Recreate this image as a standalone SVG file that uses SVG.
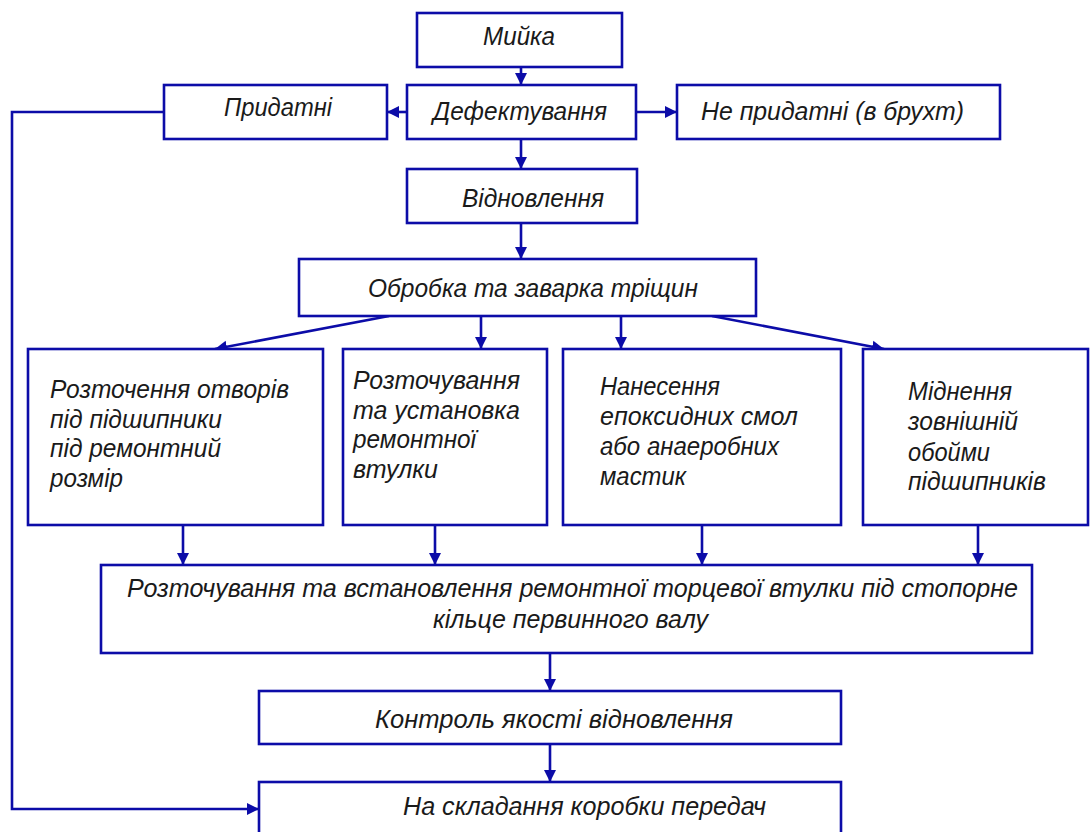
<svg xmlns="http://www.w3.org/2000/svg" width="1091" height="832" viewBox="0 0 1091 832">
<style>
.box{fill:#fff;stroke:#0c0ca8;stroke-width:2.6}
.ln{fill:none;stroke:#0c0ca8;stroke-width:2.6;marker-end:url(#ah)}
text{font-family:"Liberation Sans","DejaVu Sans",sans-serif;font-style:italic;font-size:26px;fill:#1a1a1a}
</style>
<defs>
<marker id="ah" markerUnits="userSpaceOnUse" markerWidth="13" markerHeight="13" refX="12" refY="6.5" orient="auto">
<path d="M0,0.5 L12,6.5 L0,12.5 z" fill="#0c0ca8"/>
</marker>
</defs>
<rect width="1091" height="832" fill="#fff"/>
<g id="connectors">
<line class="ln" x1="521" y1="67" x2="521" y2="85"/>
<line class="ln" x1="407" y1="112" x2="387" y2="112"/>
<line class="ln" x1="636" y1="112" x2="677" y2="112"/>
<line class="ln" x1="521" y1="139" x2="521" y2="169"/>
<line class="ln" x1="521" y1="223" x2="521" y2="259"/>
<polyline class="ln" points="164,112 12,112 12,809 259,809"/>
<line class="ln" x1="389" y1="316" x2="215" y2="349"/>
<line class="ln" x1="481" y1="316" x2="481" y2="349"/>
<line class="ln" x1="621" y1="316" x2="621" y2="349"/>
<line class="ln" x1="712" y1="316" x2="884" y2="349"/>
<line class="ln" x1="183" y1="525" x2="183" y2="565"/>
<line class="ln" x1="435" y1="525" x2="435" y2="565"/>
<line class="ln" x1="702" y1="525" x2="702" y2="565"/>
<line class="ln" x1="978" y1="525" x2="978" y2="565"/>
<line class="ln" x1="550" y1="653" x2="550" y2="691"/>
<line class="ln" x1="550" y1="744" x2="550" y2="782"/>
</g>
<g id="n-myika">
<rect class="box" x="417" y="13" width="205" height="54"/>
<text x="483" y="45" textLength="72" lengthAdjust="spacingAndGlyphs">Мийка</text>
</g>
<g id="n-defekt">
<rect class="box" x="407" y="85" width="229" height="54"/>
<text x="433" y="120" textLength="174" lengthAdjust="spacingAndGlyphs">Дефектування</text>
</g>
<g id="n-prydatni">
<rect class="box" x="164" y="85" width="223" height="54"/>
<text x="224" y="116" textLength="108" lengthAdjust="spacingAndGlyphs">Придатні</text>
</g>
<g id="n-neprydatni">
<rect class="box" x="677" y="85" width="323" height="54"/>
<text x="701" y="120" textLength="263" lengthAdjust="spacingAndGlyphs">Не придатні (в брухт)</text>
</g>
<g id="n-vidnovlennia">
<rect class="box" x="407" y="169" width="230" height="54"/>
<text x="462" y="207" textLength="142" lengthAdjust="spacingAndGlyphs">Відновлення</text>
</g>
<g id="n-obrobka">
<rect class="box" x="299" y="259" width="457" height="57"/>
<text x="368" y="297" textLength="330" lengthAdjust="spacingAndGlyphs">Обробка та заварка тріщин</text>
</g>
<g id="n-rozt1">
<rect class="box" x="28" y="349" width="295" height="176"/>
<text x="50" y="398" textLength="239" lengthAdjust="spacingAndGlyphs">Розточення отворів</text>
<text x="50" y="428" textLength="172" lengthAdjust="spacingAndGlyphs">під підшипники</text>
<text x="50" y="457" textLength="171" lengthAdjust="spacingAndGlyphs">під ремонтний</text>
<text x="50" y="487" textLength="73" lengthAdjust="spacingAndGlyphs">розмір</text>
</g>
<g id="n-rozt2">
<rect class="box" x="343" y="349" width="204" height="176"/>
<text x="353" y="389" textLength="167" lengthAdjust="spacingAndGlyphs">Розточування</text>
<text x="353" y="419" textLength="167" lengthAdjust="spacingAndGlyphs">та установка</text>
<text x="353" y="448" textLength="123" lengthAdjust="spacingAndGlyphs">ремонтної</text>
<text x="353" y="478" textLength="85" lengthAdjust="spacingAndGlyphs">втулки</text>
</g>
<g id="n-nanesennia">
<rect class="box" x="563" y="349" width="278" height="176"/>
<text x="600" y="395" textLength="120" lengthAdjust="spacingAndGlyphs">Нанесення</text>
<text x="600" y="425" textLength="198" lengthAdjust="spacingAndGlyphs">епоксидних смол</text>
<text x="600" y="455" textLength="179" lengthAdjust="spacingAndGlyphs">або анаеробних</text>
<text x="600" y="485" textLength="86" lengthAdjust="spacingAndGlyphs">мастик</text>
</g>
<g id="n-midnennia">
<rect class="box" x="863" y="349" width="225" height="176"/>
<text x="908" y="400" textLength="104" lengthAdjust="spacingAndGlyphs">Міднення</text>
<text x="908" y="430" textLength="110" lengthAdjust="spacingAndGlyphs">зовнішній</text>
<text x="908" y="461" textLength="82" lengthAdjust="spacingAndGlyphs">обойми</text>
<text x="908" y="490" textLength="138" lengthAdjust="spacingAndGlyphs">підшипників</text>
</g>
<g id="n-torts">
<rect class="box" x="101" y="565" width="931" height="88"/>
<text x="127" y="597" textLength="891" lengthAdjust="spacingAndGlyphs">Розточування та встановлення ремонтної торцевої втулки під стопорне</text>
<text x="433" y="628" textLength="275" lengthAdjust="spacingAndGlyphs">кільце первинного валу</text>
</g>
<g id="n-kontrol">
<rect class="box" x="259" y="691" width="582" height="53"/>
<text x="375" y="728" textLength="358" lengthAdjust="spacingAndGlyphs">Контроль якості відновлення</text>
</g>
<g id="n-skladannia">
<rect class="box" x="259" y="782" width="582" height="60"/>
<text x="403" y="815" textLength="363" lengthAdjust="spacingAndGlyphs">На складання коробки передач</text>
</g>
</svg>
